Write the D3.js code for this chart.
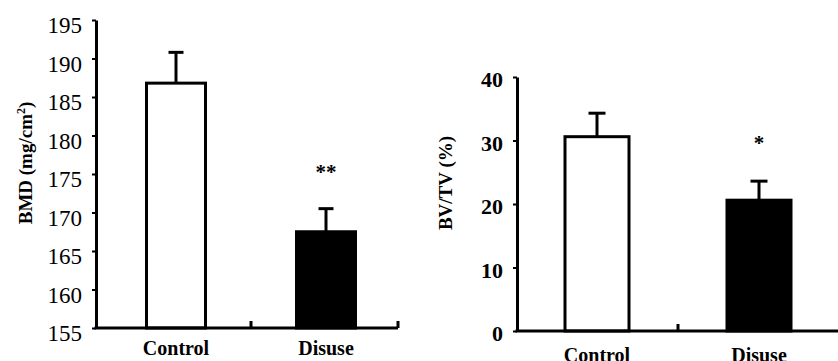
<!DOCTYPE html>
<html>
<head>
<meta charset="utf-8">
<script src="https://cdn.jsdelivr.net/npm/d3@7"></script>
<style>
  body { margin: 0; background: #fff; }
  svg { display: block; }
</style>
</head>
<body>
<svg width="838" height="361"></svg>
<script>
// groups shared by both panels
const groups = ["Control", "Disuse"];
const barFills = ["#fff", "#000"];

// left panel: BMD
const bmdMean = [186.8, 167.5];
const bmdErr = [4.0, 3.0];
const bmdTicks = [155, 160, 165, 170, 175, 180, 185, 190, 195];
const bmdStars = ["", "**"];

// right panel: BV/TV
const bvtvMean = [30.6, 20.6];
const bvtvErr = [3.7, 3.0];
const bvtvTicks = [0, 10, 20, 30, 40];
const bvtvStars = ["", "*"];

const serif = "Liberation Serif, Times New Roman, Times, DejaVu Serif, serif";

let svg = d3.select("svg");

function drawPanel(p) {
  let g = svg.append("g").attr("font-family", serif);

  let y = d3.scaleLinear().domain(p.domain).range([p.bottom, p.top]);
  let x = d3.scaleBand().domain(groups).range(p.xRange);

  // bars
  g.selectAll("rect.bar")
    .data(groups)
    .enter().append("rect")
    .attr("class", "bar")
    .attr("x", d => x(d) + x.bandwidth() / 2 - p.barW / 2)
    .attr("y", (d, i) => y(p.mean[i]))
    .attr("width", p.barW)
    .attr("height", (d, i) => p.bottom - y(p.mean[i]))
    .attr("fill", (d, i) => barFills[i])
    .attr("stroke", "#000")
    .attr("stroke-width", 3);

  // error bars (upper only)
  groups.forEach((d, i) => {
    let cx = x(d) + x.bandwidth() / 2;
    let y0 = y(p.mean[i]), y1 = y(p.mean[i] + p.err[i]);
    g.append("line")
      .attr("x1", cx).attr("x2", cx)
      .attr("y1", y0).attr("y2", y1)
      .attr("stroke", "#000").attr("stroke-width", 3);
    g.append("line")
      .attr("x1", cx - p.capW / 2).attr("x2", cx + p.capW / 2)
      .attr("y1", y1).attr("y2", y1)
      .attr("stroke", "#000").attr("stroke-width", 3);
    if (p.stars[i]) {
      g.append("text")
        .attr("x", cx)
        .attr("y", y(p.starAt))
        .attr("text-anchor", "middle")
        .attr("font-family", serif)
        .attr("font-size", 21)
        .attr("font-weight", "bold")
        .text(p.stars[i]);
    }
  });

  // y axis
  let yAxis = g.append("g")
    .attr("transform", `translate(${p.axisX},0)`)
    .call(d3.axisLeft(y).tickValues(p.ticks).tickSize(4).tickSizeOuter(0).tickPadding(10));
  yAxis.attr("font-family", serif).attr("font-size", p.tickFont);
  yAxis.select(".domain").attr("stroke-width", 3);
  yAxis.selectAll(".tick line").attr("stroke-width", 2);
  yAxis.selectAll(".tick text")
    .attr("dy", p.tickDy)
    .attr("font-weight", p.tickWeight);

  // x axis baseline with a middle tick and end tick
  g.append("line")
    .attr("x1", p.axisX - 1.5).attr("x2", p.xEnd)
    .attr("y1", p.bottom).attr("y2", p.bottom)
    .attr("stroke", "#000").attr("stroke-width", 3);
  [x(groups[1]) - x.step() * x.paddingInner() / 2, p.xEnd].forEach(tx => {
    g.append("line")
      .attr("x1", tx).attr("x2", tx)
      .attr("y1", p.bottom).attr("y2", p.bottom - 7)
      .attr("stroke", "#000").attr("stroke-width", 3);
  });

  // category labels
  g.selectAll("text.cat")
    .data(groups)
    .enter().append("text")
    .attr("class", "cat")
    .attr("x", d => x(d) + x.bandwidth() / 2)
    .attr("y", p.catY)
    .attr("text-anchor", "middle")
    .attr("font-size", 20)
    .attr("font-weight", "bold")
    .text(d => d);

  // y title
  let t = g.append("text")
    .attr("transform", `translate(${p.titleX},${p.titleY}) rotate(-90)`)
    .attr("text-anchor", "middle")
    .attr("font-size", 19)
    .attr("font-weight", "bold");
  p.title(t);
}

drawPanel({
  domain: [155, 195], top: 20, bottom: 328,
  xRange: [101, 401], axisX: 96, xEnd: 398,
  barW: 59, capW: 15,
  mean: bmdMean, err: bmdErr, ticks: bmdTicks, stars: bmdStars, starAt: 174.3,
  tickFont: 23, tickWeight: "normal", tickDy: "0.55em",
  catY: 355, titleX: 32, titleY: 163,
  title: t => {
    t.append("tspan").text("BMD (mg/cm");
    t.append("tspan").attr("dy", -7).attr("font-size", 12).text("2");
    t.append("tspan").attr("dy", 7).text(")");
  }
});

drawPanel({
  domain: [0, 40], top: 77, bottom: 331,
  xRange: [516, 840], axisX: 517, xEnd: 845,
  barW: 64, capW: 17,
  mean: bvtvMean, err: bvtvErr, ticks: bvtvTicks, stars: bvtvStars, starAt: 28.5,
  tickFont: 22, tickWeight: "bold", tickDy: "0.45em",
  catY: 362, titleX: 452, titleY: 183,
  title: t => t.text("BV/TV (%)")
});
</script>
</body>
</html>
